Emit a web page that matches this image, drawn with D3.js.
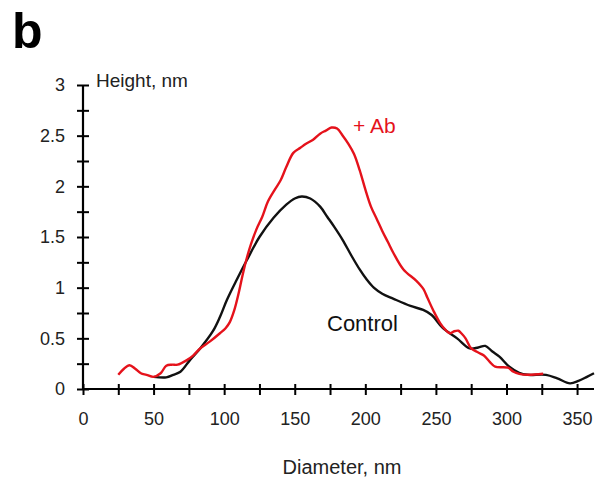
<!DOCTYPE html>
<html>
<head>
<meta charset="utf-8">
<script src="https://cdn.jsdelivr.net/npm/d3@7"></script>
<style>
  body { margin: 0; background: #fff; }
  svg { font-family: "Liberation Sans", Arial, sans-serif; }
</style>
</head>
<body>
<script>
// diameter (nm) / height (nm)
const abX = [25, 29, 33, 37, 41, 45, 50, 55, 59, 63, 67, 73, 78, 83, 90, 97, 101, 104, 107, 110,
  113, 116, 119, 123, 127, 131, 136, 140, 144, 149, 154, 158, 163, 168, 172, 176, 180, 184, 188, 192,
  196, 200, 204, 208, 212, 216, 220, 227, 236, 241, 244, 248, 253, 257, 260, 263, 266, 268, 271, 275,
  280, 284, 288, 292, 301, 305, 309, 315, 326];
const abY = [0.14, 0.20, 0.235, 0.20, 0.155, 0.14, 0.12, 0.155, 0.23, 0.24, 0.24, 0.28, 0.33, 0.40, 0.47, 0.55, 0.60, 0.66, 0.77, 0.93,
  1.12, 1.29, 1.43, 1.58, 1.70, 1.85, 1.97, 2.06, 2.19, 2.33, 2.38, 2.42, 2.46, 2.52, 2.55, 2.58, 2.57, 2.50, 2.42, 2.32,
  2.16, 1.97, 1.80, 1.68, 1.56, 1.45, 1.34, 1.18, 1.07, 0.99, 0.90, 0.78, 0.65, 0.58, 0.55, 0.57, 0.575, 0.55, 0.50, 0.40,
  0.36, 0.33, 0.27, 0.22, 0.21, 0.17, 0.15, 0.14, 0.15];

const ctrlX = [50, 59, 64, 69, 76, 83, 92, 97, 102, 109, 116, 125, 135, 144, 150, 155, 161, 168, 173, 178,
  184, 190, 196, 201, 206, 212, 220, 232, 241, 247, 255, 265, 274, 280, 285, 290, 295, 302, 309, 315,
  328, 336, 345, 351, 357, 362];
const ctrlY = [0.12, 0.115, 0.14, 0.17, 0.29, 0.40, 0.57, 0.71, 0.88, 1.08, 1.27, 1.50, 1.69, 1.82, 1.88, 1.90, 1.88, 1.80, 1.70, 1.60,
  1.47, 1.32, 1.18, 1.08, 1.00, 0.94, 0.89, 0.82, 0.78, 0.73, 0.60, 0.50, 0.40, 0.41, 0.425, 0.37, 0.32, 0.22, 0.16, 0.14,
  0.14, 0.105, 0.056, 0.08, 0.12, 0.155];

const xTicks = d3.range(0, 351, 25);
const yTicks = d3.range(0, 3.01, 0.25);

const width = 600;
const height = 483;

const svg = d3.select('body')
  .append('svg')
  .attr('width', width)
  .attr('height', height);

// scales
const xScale = d3.scaleLinear()
  .domain([0, 362])
  .range([83, 594]);

const yScale = d3.scaleLinear()
  .domain([0, 3])
  .range([389, 85]);

// x axis, ticks cross the line
const xAxis = d3.axisBottom(xScale)
  .tickValues(xTicks)
  .tickSize(6)
  .tickPadding(17)
  .tickFormat(d => d % 50 === 0 ? d : '');

const gx = svg.append('g')
  .attr('transform', `translate(0,${yScale(0)})`)
  .call(xAxis);
gx.select('.domain').attr('d', `M${xScale(0)},0H${xScale(362)}`);

// y axis
const yAxis = d3.axisLeft(yScale)
  .tickValues(yTicks)
  .tickSize(6)
  .tickPadding(12)
  .tickFormat(d => d % 0.5 === 0 ? d : '');

const gy = svg.append('g')
  .attr('transform', `translate(${xScale(0)},0)`)
  .call(yAxis);
gy.select('.domain').attr('d', `M0,${yScale(0)}V${yScale(3)}`);

gx.selectAll('.tick line').attr('y1', -5);
gy.selectAll('.tick line').attr('x1', 6);

[gx, gy].forEach(g => {
  g.select('.domain').attr('stroke-width', 2.2);
  g.selectAll('.tick line').attr('stroke-width', 2);
  g.selectAll('.tick text')
    .attr('font-size', 18)
    .attr('font-family', '"Liberation Sans", Arial, sans-serif')
    .attr('fill', '#222');
});

// the two profiles
const line = d3.line()
  .x(d => xScale(d[0]))
  .y(d => yScale(d[1]))
  .curve(d3.curveCatmullRom);

svg.append('path')
  .datum(d3.zip(ctrlX, ctrlY))
  .attr('d', line)
  .attr('fill', 'none')
  .attr('stroke', '#111')
  .attr('stroke-width', 2.4);

svg.append('path')
  .datum(d3.zip(abX, abY))
  .attr('d', line)
  .attr('fill', 'none')
  .attr('stroke', '#e5121b')
  .attr('stroke-width', 2.4);

// labels
svg.append('text')
  .attr('x', 12)
  .attr('y', 48)
  .attr('font-size', 50)
  .attr('font-weight', 'bold')
  .text('b');

svg.append('text')
  .attr('x', 96)
  .attr('y', 87)
  .attr('font-size', 19)
  .attr('fill', '#222')
  .text('Height, nm');

svg.append('text')
  .attr('x', 342)
  .attr('y', 474)
  .attr('text-anchor', 'middle')
  .attr('font-size', 20)
  .attr('fill', '#222')
  .text('Diameter, nm');

svg.append('text')
  .attr('x', 353)
  .attr('y', 133)
  .attr('font-size', 21)
  .attr('fill', '#e5121b')
  .text('+ Ab');

svg.append('text')
  .attr('x', 327)
  .attr('y', 331)
  .attr('font-size', 22)
  .attr('fill', '#111')
  .text('Control');
</script>
</body>
</html>
